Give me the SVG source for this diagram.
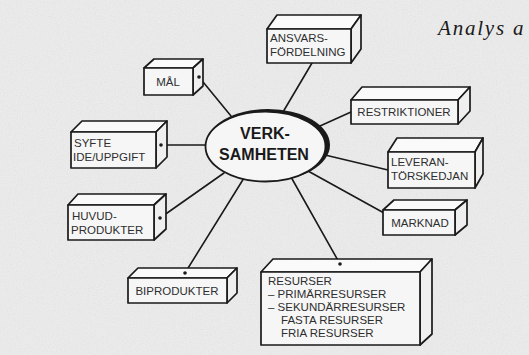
<svg xmlns="http://www.w3.org/2000/svg" width="529" height="355" viewBox="0 0 529 355">
  <defs>
    <filter id="grain" x="0" y="0" width="100%" height="100%">
      <feTurbulence type="fractalNoise" baseFrequency="0.85" numOctaves="2" seed="7"/>
      <feColorMatrix type="saturate" values="0"/>
    </filter>
    <style>
      .face { fill: #f6f6f6; stroke: #1a1a1a; stroke-width: 1.7; stroke-linejoin: round; }
      .top { fill: #fafafa; }
      .side { fill: #efefef; }
      .lbl { font-family: "Liberation Sans", Arial, sans-serif; font-size: 11.5px; fill: #2e2e2e; }
      .mid { text-anchor: middle; }
      .conn line { stroke: #1a1a1a; stroke-width: 1.6; stroke-linecap: round; }
      .dot { fill: #1a1a1a; }
      .hub { font-family: "Liberation Sans", Arial, sans-serif; font-weight: bold; font-size: 16px; fill: #1a1a1a; text-anchor: middle; }
    </style>
  </defs>

  <!-- paper -->
  <rect width="529" height="355" fill="#ededed"/>
  <rect width="529" height="355" filter="url(#grain)" opacity="0.16"/>

  <text x="438" y="35" font-family="Liberation Serif, 'Times New Roman', serif" font-style="italic" font-size="21" letter-spacing="1.8" fill="#1a1a1a">Analys a</text>

  <!-- connectors -->
  <g id="connectors" class="conn">
    <line x1="312" y1="63" x2="283" y2="112"/>
    <line x1="199" y1="77" x2="231" y2="116"/>
    <line x1="351" y1="112" x2="320" y2="126"/>
    <line x1="161" y1="145" x2="205" y2="145"/>
    <line x1="388" y1="170" x2="325" y2="155"/>
    <line x1="384" y1="213" x2="308" y2="171"/>
    <line x1="160" y1="218" x2="224" y2="173"/>
    <line x1="185" y1="273" x2="244" y2="178"/>
    <line x1="340" y1="264" x2="291" y2="177"/>
  </g>

  <!-- central node -->
  <g id="verksamheten">
    <ellipse cx="268" cy="145" rx="62" ry="36" fill="#1a1a1a"/>
    <ellipse cx="265.5" cy="146.5" rx="60" ry="35" fill="#f6f6f6" stroke="#1a1a1a" stroke-width="1.8"/>
    <text class="hub" x="265" y="139">VERK-</text>
    <text class="hub" x="264" y="160">SAMHETEN</text>
  </g>

  <g id="mal">
    <polygon class="face top" points="144,68 154,59 203,59 193,68"/>
    <polygon class="face side" points="193,68 203,59 203,86 193,95"/>
    <rect class="face" x="144" y="68" width="49" height="27"/>
    <circle class="dot" cx="199" cy="77" r="1.8"/>
    <text class="lbl mid" x="168" y="86">MÅL</text>
  </g>

  <g id="syfte">
    <polygon class="face top" points="71,132 82,121 167,121 156,132"/>
    <polygon class="face side" points="156,132 167,121 167,157 156,168"/>
    <rect class="face" x="71" y="132" width="85" height="36"/>
    <circle class="dot" cx="161" cy="145" r="1.8"/>
    <text class="lbl" x="74" y="147">SYFTE</text>
    <text class="lbl" x="73" y="161">IDE/UPPGIFT</text>
  </g>

  <g id="huvudprodukter">
    <polygon class="face top" points="68,205 78,194 166,194 154,205"/>
    <polygon class="face side" points="154,205 166,194 166,229 154,240"/>
    <rect class="face" x="68" y="205" width="86" height="35"/>
    <circle class="dot" cx="160" cy="218" r="1.8"/>
    <text class="lbl" x="72" y="220">HUVUD-</text>
    <text class="lbl" x="71" y="234">PRODUKTER</text>
  </g>

  <g id="biprodukter">
    <polygon class="face top" points="128,278 138,268 237,268 227,278"/>
    <polygon class="face side" points="227,278 237,268 237,293 227,303"/>
    <rect class="face" x="128" y="278" width="99" height="25"/>
    <circle class="dot" cx="185" cy="273" r="1.8"/>
    <text class="lbl mid" x="177" y="295">BIPRODUKTER</text>
  </g>

  <g id="ansvarsfordelning">
    <polygon class="face top" points="267,29 277,15 361,15 351,29"/>
    <polygon class="face side" points="351,29 361,15 361,49 351,63"/>
    <rect class="face" x="267" y="29" width="84" height="34"/>
    <text class="lbl" x="270" y="42">ANSVARS-</text>
    <text class="lbl" x="270" y="56">FÖRDELNING</text>
  </g>

  <g id="restriktioner">
    <polygon class="face top" points="351,100 362,87 470,87 458,100"/>
    <polygon class="face side" points="458,100 470,87 470,111 458,124"/>
    <rect class="face" x="351" y="100" width="107" height="24"/>
    <text class="lbl mid" x="404" y="116">RESTRIKTIONER</text>
  </g>

  <g id="leverantorskedjan">
    <polygon class="face top" points="388,152 397,138 483,138 475,152"/>
    <polygon class="face side" points="475,152 483,138 483,174 475,188"/>
    <rect class="face" x="388" y="152" width="87" height="36"/>
    <text class="lbl" x="391" y="166">LEVERAN-</text>
    <text class="lbl" x="391" y="180">TÖRSKEDJAN</text>
  </g>

  <g id="marknad">
    <polygon class="face top" points="383,210 394,200 467,200 455,210"/>
    <polygon class="face side" points="455,210 467,200 467,225 455,235"/>
    <rect class="face" x="383" y="210" width="72" height="25"/>
    <text class="lbl mid" x="420" y="227">MARKNAD</text>
  </g>

  <g id="resurser">
    <polygon class="face top" points="261,272 273,259 432,259 420,272"/>
    <polygon class="face side" points="420,272 432,259 432,334 420,345"/>
    <rect class="face" x="261" y="272" width="159" height="73"/>
    <circle class="dot" cx="340" cy="264" r="1.8"/>
    <text class="lbl" x="268" y="285" font-size="12">RESURSER</text>
    <text class="lbl" x="268" y="298" font-size="12">– PRIMÄRRESURSER</text>
    <text class="lbl" x="268" y="311" font-size="12">– SEKUNDÄRRESURSER</text>
    <text class="lbl" x="281" y="324" font-size="12">FASTA RESURSER</text>
    <text class="lbl" x="281" y="337" font-size="12">FRIA RESURSER</text>
  </g>
</svg>
